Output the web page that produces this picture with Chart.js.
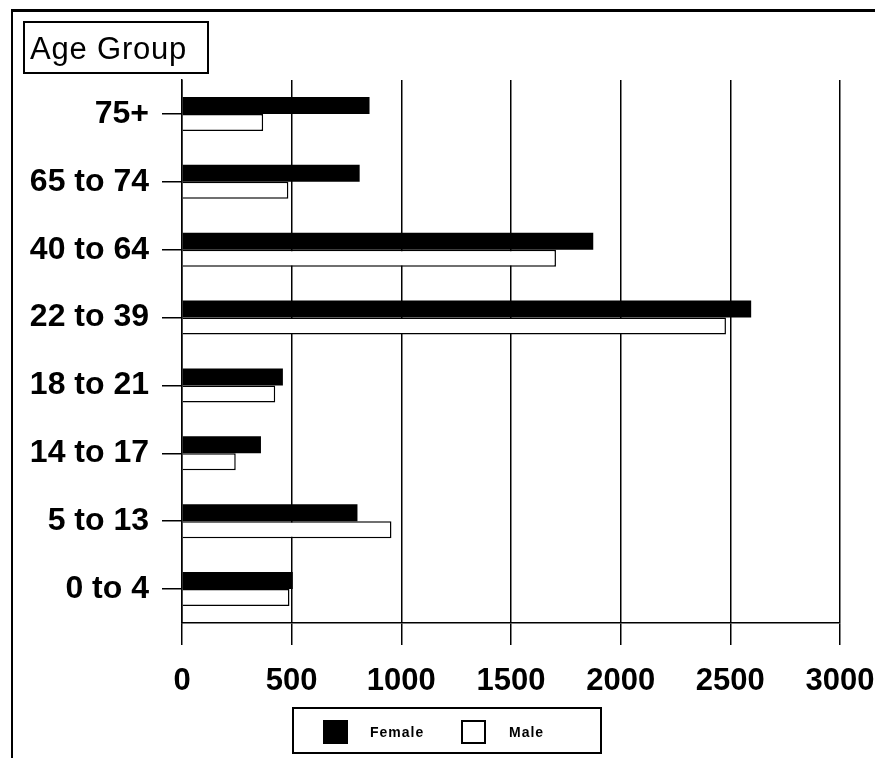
<!DOCTYPE html>
<html>
<head>
<meta charset="utf-8">
<script src="https://cdn.jsdelivr.net/npm/chart.js@4/dist/chart.umd.min.js"></script>
<style>
  html, body { margin: 0; padding: 0; background: #fff; }
  #wrap { position: relative; width: 875px; height: 758px; overflow: hidden; background: #fff; }
  #c { position: absolute; left: 0; top: 0; }
  #frameTop { position: absolute; left: 11px; top: 9px; width: 864px; height: 0; border-top: 3px solid #000; }
  #frameLeft { position: absolute; left: 11px; top: 9px; width: 0; height: 749px; border-left: 2px solid #000; }
  #titleBox { position: absolute; left: 23px; top: 21px; width: 177px; height: 49px; padding-left: 5px; border: 2px solid #000; box-sizing: content-box;
    font-family: 'Liberation Sans', Arial, sans-serif; font-size: 31px; color: #000; line-height: 51px; white-space: nowrap; letter-spacing: 0.8px; }
  #legendBox { position: absolute; left: 292px; top: 707px; width: 310px; height: 47px; border: 2px solid #000; box-sizing: border-box; }
  .sw { position: absolute; top: 11px; width: 25px; height: 24px; box-sizing: border-box; border: 2px solid #000; }
  .lt { position: absolute; top: 11px; height: 24px; line-height: 24px; font-family: 'Liberation Sans', Arial, sans-serif; font-weight: bold; font-size: 14px; letter-spacing: 1px; color: #000; }
</style>
</head>
<body>
<div id="wrap">
  <canvas id="c" width="875" height="758"></canvas>
  <div id="frameTop"></div>
  <div id="frameLeft"></div>
  <div id="titleBox"></div>
  <div id="legendBox"></div>
</div>
<script>
const categories = ['75+', '65 to 74', '40 to 64', '22 to 39', '18 to 21', '14 to 17', '5 to 13', '0 to 4'];
const femaleValues = [855, 810, 1875, 2595, 460, 360, 800, 505];
const maleValues = [370, 485, 1705, 2480, 425, 245, 955, 490];
const seriesNames = ['Female', 'Male'];
const axisTitle = 'Age Group';
const xMin = 0, xMax = 3000, xStep = 500;

const FONT = "'Liberation Sans', Arial, sans-serif";

document.getElementById('titleBox').textContent = axisTitle;

const seriesFill = ['#000000', '#ffffff'];
const legend = document.getElementById('legendBox');
const swX = [29, 167];
const txX = [76, 215];
seriesNames.forEach((name, i) => {
  const s = document.createElement('div');
  s.className = 'sw';
  s.style.left = swX[i] + 'px';
  s.style.background = seriesFill[i];
  legend.appendChild(s);
  const t = document.createElement('div');
  t.className = 'lt';
  t.style.left = txX[i] + 'px';
  t.textContent = name;
  legend.appendChild(t);
});

new Chart(document.getElementById('c'), {
  type: 'bar',
  data: {
    labels: categories,
    datasets: [
      { label: seriesNames[0], data: femaleValues, backgroundColor: '#000', borderColor: '#000', borderWidth: 0,
        barPercentage: 1.0, categoryPercentage: 0.5 },
      { label: seriesNames[1], data: maleValues, backgroundColor: '#fff', borderColor: '#000', borderWidth: 1.5,
        barPercentage: 1.0, categoryPercentage: 0.5 }
    ]
  },
  options: {
    indexAxis: 'y',
    responsive: false,
    animation: false,
    layout: { padding: { top: 80, right: 35, left: 0, bottom: 0 } },
    plugins: { legend: { display: false }, tooltip: { enabled: false }, title: { display: false } },
    scales: {
      x: {
        type: 'linear',
        min: xMin, max: xMax,
        ticks: { stepSize: xStep, color: '#000', font: { family: FONT, size: 31, weight: 'bold' }, padding: 18, maxRotation: 0,
          callback: (v) => String(v) },
        grid: { color: '#000', lineWidth: 1.5, tickLength: 22, drawTicks: true },
        border: { display: true, color: '#000', width: 1.5 },
        afterFit: (s) => { s.height = 135; s.paddingRight = 0; s.paddingLeft = 0; }
      },
      y: {
        type: 'category',
        ticks: { color: '#000', font: { family: FONT, size: 32, weight: 'bold' }, padding: 13 },
        grid: { display: true, drawOnChartArea: false, offset: false, color: '#000', lineWidth: 1.5, tickLength: 20 },
        border: { display: true, color: '#000', width: 1.5 },
        afterFit: (s) => { s.width = 182; s.paddingTop = 0; s.paddingBottom = 0; }
      }
    }
  }
});
</script>
</body>
</html>
